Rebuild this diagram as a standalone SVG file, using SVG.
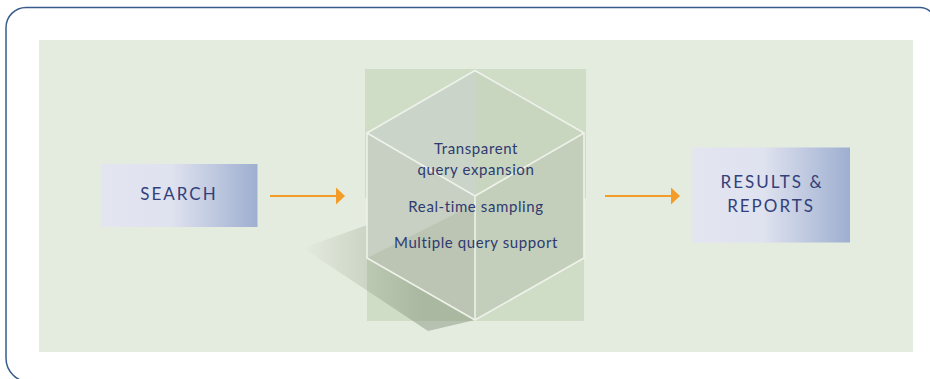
<svg xmlns="http://www.w3.org/2000/svg" width="930" height="379" viewBox="0 0 930 379">
  <defs>
    <linearGradient id="boxGrad" x1="0" y1="0" x2="1" y2="0">
      <stop offset="0" stop-color="#e3e5f1"/>
      <stop offset="0.45" stop-color="#dfe2ef"/>
      <stop offset="1" stop-color="#9eafd0"/>
    </linearGradient>
    <linearGradient id="shadowGrad" gradientUnits="userSpaceOnUse" x1="303" y1="0" x2="420" y2="0">
      <stop offset="0" stop-color="#7f8d74" stop-opacity="0"/>
      <stop offset="1" stop-color="#7f8d74" stop-opacity="0.45"/>
    </linearGradient>
    <marker id="arrowHead" markerUnits="userSpaceOnUse" markerWidth="10" markerHeight="18" refX="1" refY="9" orient="auto">
      <polygon points="0,0.5 9,9 0,17.5" fill="#f39c28"/>
    </marker>
    <style>
      .frame { fill: none; stroke: #3a5c8c; stroke-width: 1.5; }
      .box { fill: url(#boxGrad); }
      .boxText { font-family: "Lato", "Liberation Sans", sans-serif; font-size: 17px; letter-spacing: 2px; fill: #33407a; text-anchor: middle; }
      .cubeText { font-family: "Lato", "Liberation Sans", sans-serif; font-size: 15px; letter-spacing: 0.6px; fill: #2f3a70; text-anchor: middle; }
      .edge { fill: none; stroke: #eef2ea; stroke-width: 1.6; stroke-linejoin: round; }
      .conn { stroke: #f39c28; stroke-width: 2.2; fill: none; marker-end: url(#arrowHead); }
    </style>
  </defs>

  <rect width="930" height="379" fill="#ffffff"/>
  <path class="frame" d="M935 22.5 A15 15 0 0 0 920 7.5 H26 A20 20 0 0 0 6 27.5 V358 A24 24 0 0 0 30 382 H935"/>
  <rect x="39" y="40" width="874" height="312" fill="#e4ebdf"/>

  <g id="search">
    <rect class="box" x="101.5" y="164" width="156" height="63"/>
    <text class="boxText" x="179" y="200">SEARCH</text>
  </g>

  <g id="cube">
    <rect x="365" y="69" width="221" height="129" fill="#cfdcc6"/>
    <rect x="367" y="198" width="217" height="123" fill="#cfdcc6"/>
    <!-- top face -->
    <polygon points="475,70.5 367,133 475,196" fill="#cad4c9"/>
    <polygon points="475,70.5 584,133 475,196" fill="#c8d5bf"/>
    <!-- left face -->
    <polygon points="367,133 475,196 475,320 367,258" fill="#c7d0c3"/>
    <polygon points="367,258 475,204 475,320" fill="#bcc5b4"/>
    <!-- right face -->
    <polygon points="584,133 475,196 475,320 584,258" fill="#c3cfba"/>
    <!-- shadow -->
    <polygon points="303,248 367,225 367,258 475,320 428,331" fill="url(#shadowGrad)"/>
    <!-- edges -->
    <polygon class="edge" points="475,70.5 584,133 584,258 475,320 367,258 367,133"/>
    <polyline class="edge" points="367,133 475,196 584,133"/>
    <line class="edge" x1="475" y1="196" x2="475" y2="320"/>
    <text class="cubeText" x="476" y="154">Transparent</text>
    <text class="cubeText" x="476" y="175">query expansion</text>
    <text class="cubeText" x="476" y="211.5">Real-time sampling</text>
    <text class="cubeText" x="476" y="248">Multiple query support</text>
  </g>

  <g id="results">
    <rect class="box" x="692.5" y="147.5" width="157.5" height="95"/>
    <text class="boxText" x="772" y="187.5">RESULTS &amp;</text>
    <text class="boxText" x="771" y="212">REPORTS</text>
  </g>

  <g id="connectors">
    <line class="conn" x1="270" y1="196" x2="337" y2="196"/>
    <line class="conn" x1="605" y1="196" x2="672" y2="196"/>
  </g>
</svg>
